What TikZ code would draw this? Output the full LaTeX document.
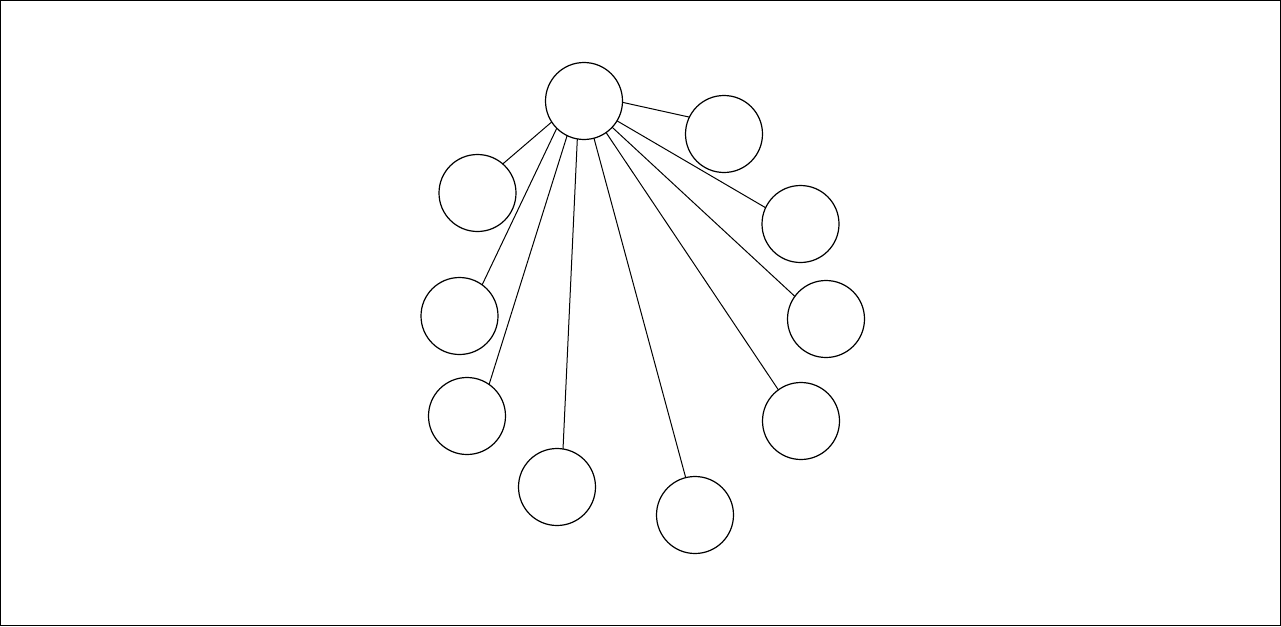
\documentclass[tikz,border=0pt]{standalone}
\begin{document}
\begin{tikzpicture}[x=1pt,y=-1pt,
  vert/.style={circle,draw=black,line width=1.2pt,minimum size=77pt,inner sep=0pt,outer sep=0pt,fill=white},
  edge/.style={draw=black,line width=1pt}]
\useasboundingbox (0,0) rectangle (1281,626);
\draw[line width=1.2pt] (0.6,0.6) rectangle (1280.4,625.4);
\node[vert] (c) at (584,101) {};
\node[vert] (a1) at (724,134) {};
\node[vert] (a2) at (800.5,224) {};
\node[vert] (a3) at (826,319) {};
\node[vert] (a4) at (801,421) {};
\node[vert] (a5) at (695,515) {};
\node[vert] (a6) at (557,487) {};
\node[vert] (a7) at (467,416) {};
\node[vert] (a8) at (459.5,316) {};
\node[vert] (a9) at (477.5,193) {};
\draw[edge] (c.358) -- (a1.154.5);
\draw[edge] (c.329) -- (a2.155.5);
\draw[edge] (c.317) -- (a3.144.3);
\draw[edge] (c.305) -- (a4.126.3);
\draw[edge] (c.285.3) -- (a5.104.2);
\draw[edge] (c.260) -- (a6.81.4);
\draw[edge] (c.244.7) -- (a7.55.2);
\draw[edge] (c.225.3) -- (a8.54.6);
\draw[edge] (c.213.3) -- (a9.49.9);
\end{tikzpicture}
\end{document}
